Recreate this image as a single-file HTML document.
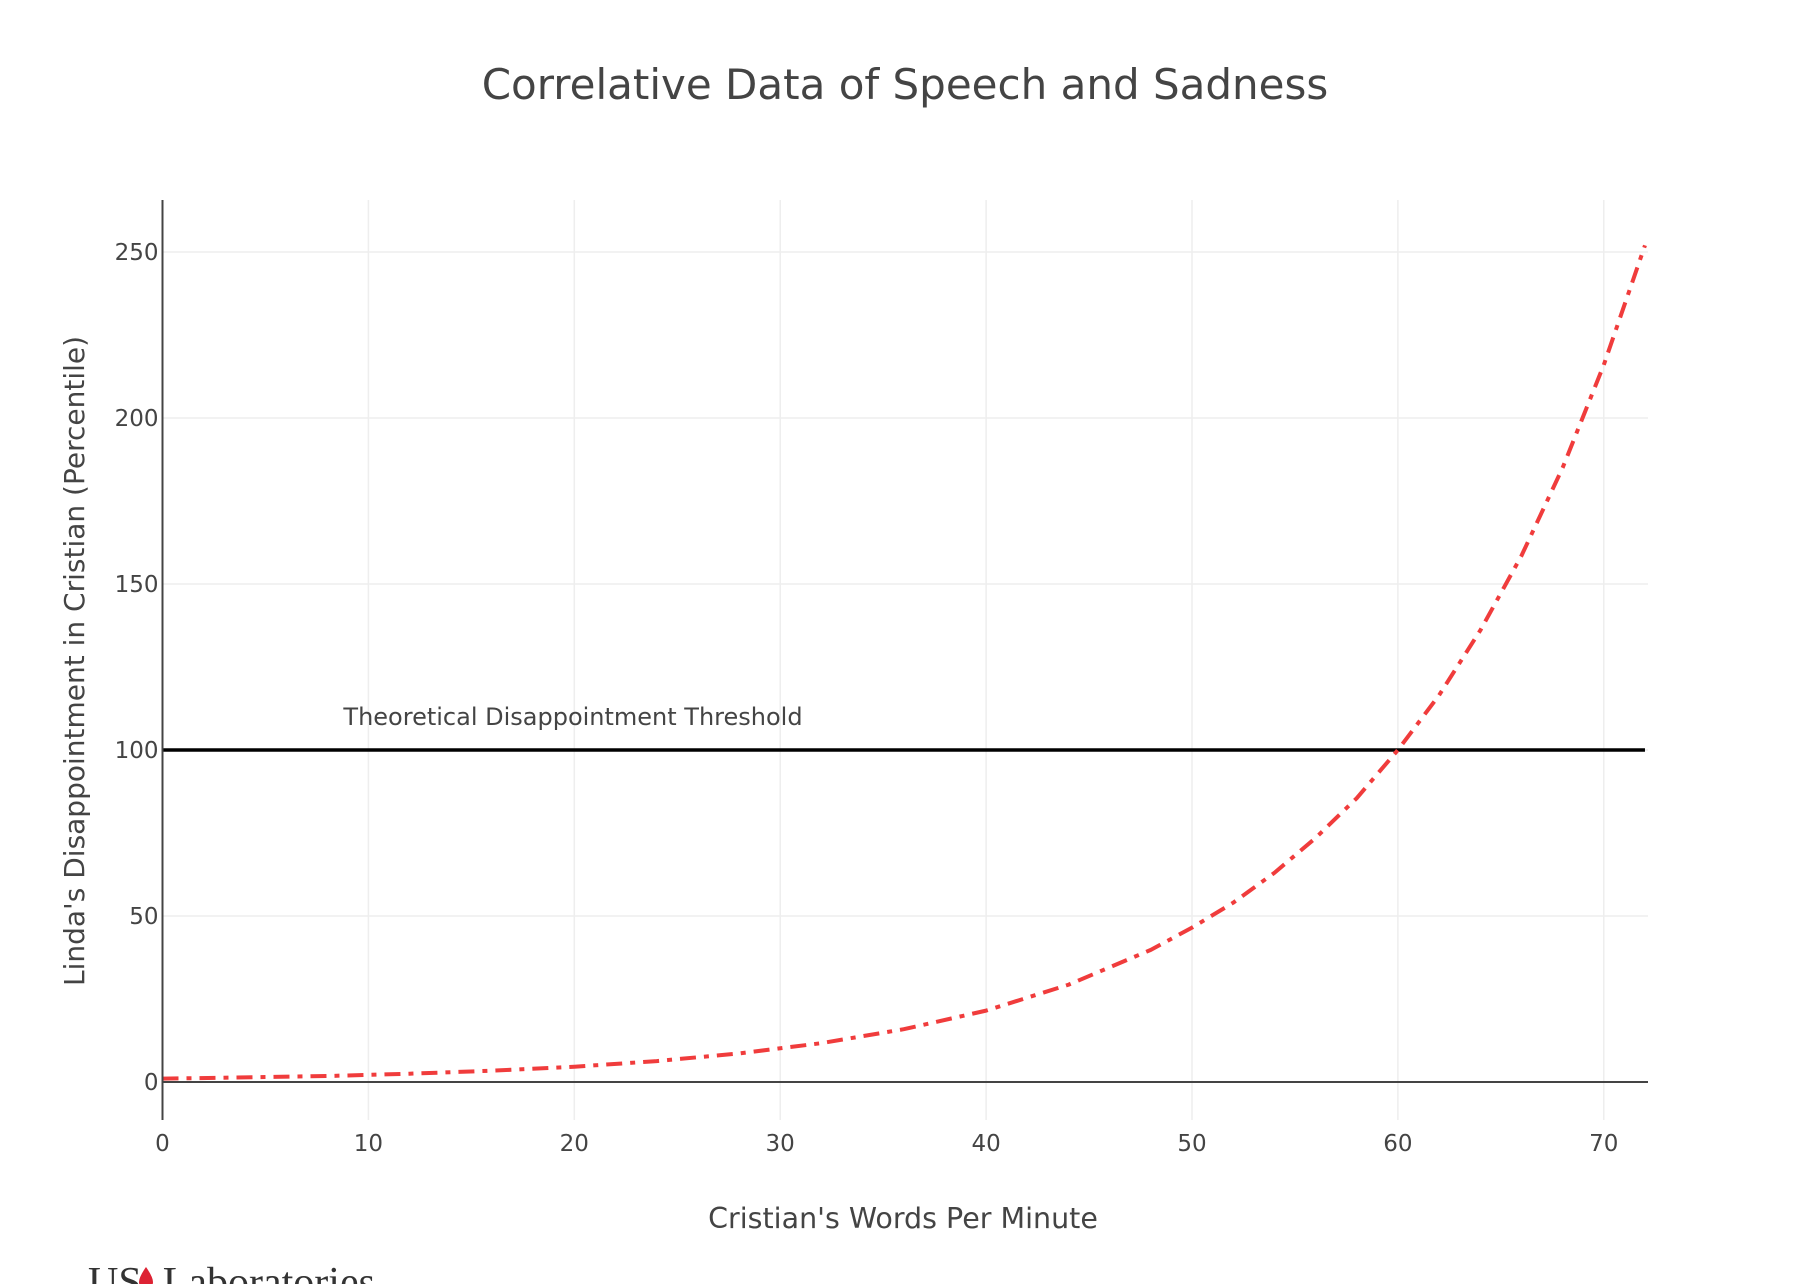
<!DOCTYPE html>
<html><head><meta charset="utf-8"><style>
html,body{margin:0;padding:0;background:#fff;width:1810px;height:1284px;overflow:hidden}
svg text{font-family:"DejaVu Sans","Liberation Sans",sans-serif}
</style></head><body>
<svg id="chart" width="1810" height="1284" xmlns="http://www.w3.org/2000/svg">
<text x="905" y="99" text-anchor="middle" font-size="42" fill="#444">Correlative Data of Speech and Sadness</text>
<g id="grid"></g>
<g id="marks"></g>
<g id="axes"></g>
<text x="903" y="1228" text-anchor="middle" font-size="28.5" fill="#444">Cristian's Words Per Minute</text>
<text transform="translate(84,661) rotate(-90)" text-anchor="middle" font-size="28" fill="#444">Linda's Disappointment in Cristian (Percentile)</text>
<text x="573" y="725" text-anchor="middle" font-size="24" fill="#444">Theoretical Disappointment Threshold</text>
<g>
<text x="88" y="1296" font-size="42" fill="#333" style="font-family:'Liberation Serif',serif">US<tspan fill="#fff">_</tspan>Laboratories</text>
<path d="M146 1267 q-7 10 -7 15 a7 7 0 0 0 14 0 q0 -5 -7 -15z" fill="#d23"/>
</g>
</svg>
<script>
const xTicks=[0,10,20,30,40,50,60,70];
const yTicks=[0,50,100,150,200,250];
const xs=[0,4,8,12,16,20,24,28,32,36,40,44,48,50,52,54,56,58,60,62,64,66,68,70,72];
const ys=[1,1.4,1.8,2.5,3.4,4.6,6.3,8.6,11.7,15.9,21.5,29.3,39.8,46.5,54,63,73.5,85.5,100,116.5,136,158.5,185,216,252];
const threshold=100;
const X0=162.5,XS=20.59,Y0=1082,YS=3.32,XR=1648,YT=200,YB=1120;
const sx=v=>X0+v*XS, sy=v=>Y0-v*YS;
const NS='http://www.w3.org/2000/svg';
function mk(t,a,p){const e=document.createElementNS(NS,t);for(const k in a)e.setAttribute(k,a[k]);document.getElementById(p).appendChild(e);return e;}
xTicks.forEach(t=>{
 if(t>0){const l=mk('line',{x1:sx(t),x2:sx(t),y1:YT,y2:YB,stroke:'#eee','stroke-width':1.5},'grid');
 
 }
 const tx=mk('text',{x:sx(t),y:1151,'text-anchor':'middle','font-size':23,fill:'#444'},'axes');tx.textContent=t;
 
 
});
yTicks.forEach(t=>{
 if(t>0){const l=mk('line',{x1:X0,x2:XR,y1:sy(t),y2:sy(t),stroke:'#eee','stroke-width':1.5},'grid');
 
 }
 const tx=mk('text',{x:X0-4,y:sy(t)+8,'text-anchor':'end','font-size':23,fill:'#444'},'axes');tx.textContent=t;
 
 
});
const za=mk('line',{x1:X0,x2:XR,y1:sy(0),y2:sy(0),stroke:'#444','stroke-width':2},'axes');


const ya=mk('line',{x1:X0,x2:X0,y1:YT,y2:YB,stroke:'#444','stroke-width':2},'axes');


const th=mk('line',{x1:sx(0),x2:sx(72),y1:sy(threshold),y2:sy(threshold),stroke:'#000','stroke-width':3.5},'marks');


const c=mk('path',{d:xs.map((x,i)=>(i?'L':'M')+sx(x)+' '+sy(ys[i])).join(' '),fill:'none',stroke:'#f03c3c','stroke-width':4,'stroke-linejoin':'round','stroke-dasharray':'16 8 5 8'},'marks');


</script>
</body></html>
